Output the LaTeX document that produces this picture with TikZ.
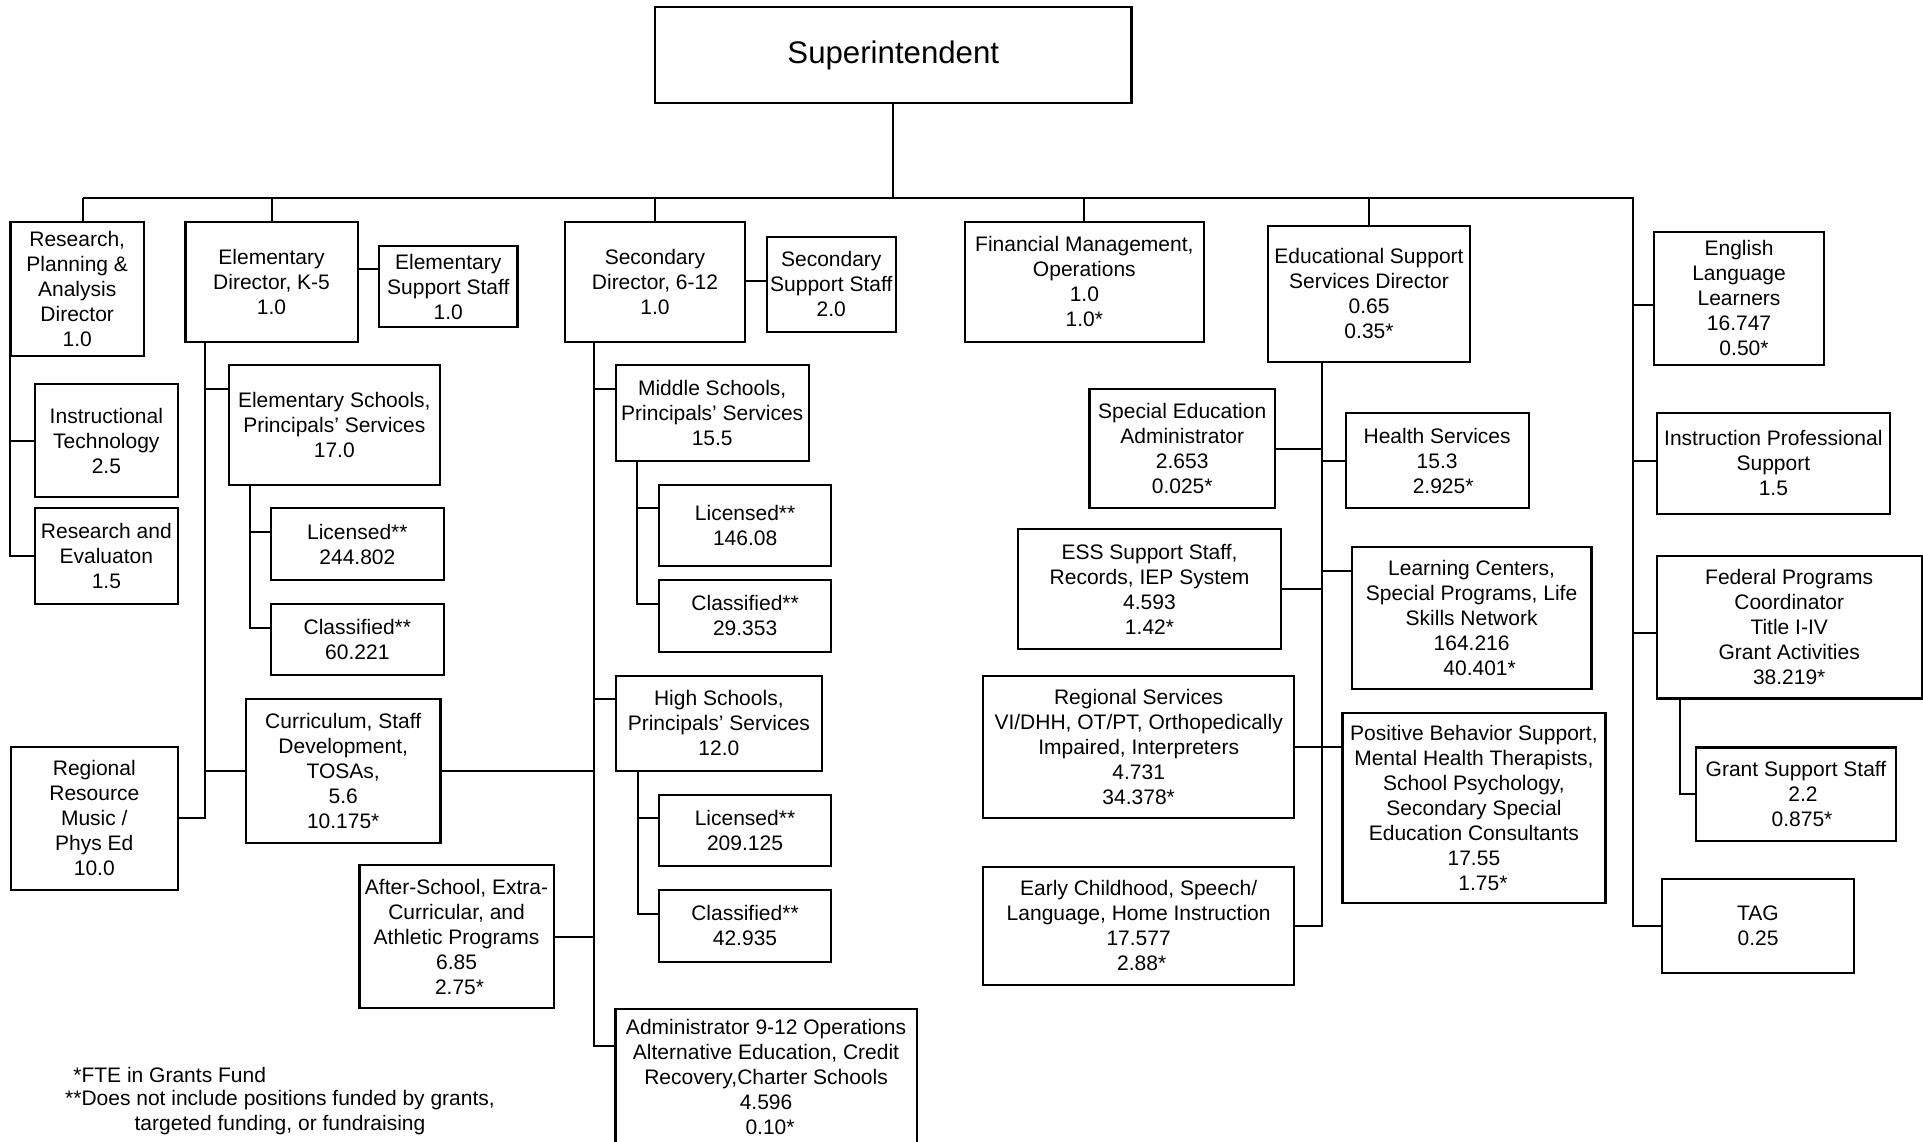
\documentclass[tikz,border=0pt]{standalone}
\usepackage{fontspec}
\setmainfont{Liberation Sans}
\newcommand\bx[6]{\node[box, minimum width={(#4-#2)*0.5pt}, minimum height={(#5-#3)*0.5pt}] (#1) at ({(#2+#4)/2},{(#3+#5)/2}) {#6};}
\newcommand\sh[1]{\hspace*{#1pt}}
\begin{document}
\begin{tikzpicture}[x=0.5pt,y=-0.5pt,
  every node/.style={font=\fontsize{10.5}{12.5}\selectfont},
  box/.style={draw, line width=1.1pt, inner sep=0pt, outer sep=0pt, align=center},
  conn/.style={line width=1pt}]
\useasboundingbox (0,0) rectangle (1923,1141);
\clip (0,0) rectangle (1923,1141);
% top
\node[box, minimum width={476.5*0.5pt}, minimum height={95.4*0.5pt}, font=\fontsize{15.6}{18}\selectfont] (sup) at (893.3,55) {Superintendent};
\coordinate (barL) at (83,198);
\coordinate (barR) at (1633,198);
% level 1
\bx{res}{10.4}{221.7}{144}{356}{Research,\\Planning \&\\Analysis\\Director\\1.0}
\bx{eld}{185.5}{222.3}{357.6}{341.7}{Elementary\\Director, K-5\\1.0}
\bx{els}{379}{246}{517.5}{327.3}{Elementary\\Support Staff\\1.0}
\bx{sed}{564.6}{222.3}{745.3}{341.7}{Secondary\\Director, 6-12\\1.0}
\bx{sss}{766.7}{236.7}{895.9}{332}{Secondary\\Support Staff\\2.0}
\bx{fin}{965}{221.7}{1203.7}{341.7}{Financial Management,\\Operations\\1.0\\1.0*}
\bx{esd}{1268}{225.7}{1470}{361.7}{Educational Support\\Services Director\\0.65\\0.35*}
% research column
\bx{it}{34.7}{384}{178}{497}{Instructional\\Technology\\2.5}
\bx{re}{34.7}{508}{178}{604}{Research and\\Evaluaton\\1.5}
\bx{rr}{11}{746.7}{177.6}{890}{Regional\\Resource\\Music /\\Phys Ed\\10.0}
% elementary column
\bx{es}{228.6}{365}{440}{484.7}{Elementary Schools,\\Principals’ Services\\17.0}
\bx{lic1}{271}{508}{443.7}{580}{Licensed**\\244.802}
\bx{cl1}{271}{603.7}{443.7}{675}{Classified**\\60.221}
\bx{cur}{246}{699}{440.4}{842.7}{Curriculum, Staff\\Development,\\TOSAs,\\5.6\\10.175*}
\bx{as}{359.5}{864.7}{553.6}{1008.3}{After-School, Extra-\\Curricular, and\\Athletic Programs\\6.85\\\sh{3}2.75*}
% secondary column
\bx{ms}{615.7}{365}{808.7}{460.7}{Middle Schools,\\Principals’ Services\\15.5}
\bx{lic2}{659}{484.7}{831.3}{565.7}{Licensed**\\146.08}
\bx{cl2}{659}{579.7}{831.3}{651.7}{Classified**\\29.353}
\bx{hs}{615.7}{675.7}{822}{770.7}{High Schools,\\Principals’ Services\\12.0}
\bx{lic3}{659}{794.7}{831}{866}{Licensed**\\209.125}
\bx{cl3}{659}{890}{831}{961.7}{Classified**\\42.935}
\bx{ad}{615.4}{1009}{916.7}{1145}{Administrator 9-12 Operations\\Alternative Education, Credit\\Recovery,Charter Schools\\4.596\\\sh{4}0.10*}
% educational support column
\bx{sea}{1089.4}{389}{1275}{508.3}{Special Education\\Administrator\\2.653\\0.025*}
\bx{hsv}{1345.7}{412.7}{1528.6}{508.3}{Health Services\\15.3\\\sh{6}2.925*}
\bx{esst}{1018}{529.3}{1281}{648.7}{ESS Support Staff,\\Records, IEP System\\4.593\\1.42*}
\bx{lc}{1351.8}{546.7}{1591.4}{689.3}{Learning Centers,\\Special Programs, Life\\Skills Network\\164.216\\\sh{8}40.401*}
\bx{rs}{983.3}{675.7}{1294}{818.3}{Regional Services\\VI/DHH, OT/PT, Orthopedically\\Impaired, Interpreters\\4.731\\34.378*}
\bx{pb}{1342.4}{713.3}{1605.4}{903.3}{Positive Behavior Support,\\Mental Health Therapists,\\School Psychology,\\Secondary Special\\Education Consultants\\17.55\\\sh{9}1.75*}
\bx{ec}{983.3}{866.7}{1294}{985}{Early Childhood, Speech/\\Language, Home Instruction\\17.577\\\sh{3}2.88*}
% right column
\bx{ell}{1654}{231.6}{1824}{364.8}{English\\Language\\Learners\\16.747\\\sh{5}0.50*}
\bx{ips}{1656.7}{413}{1890}{513.8}{Instruction Professional\\Support\\1.5}
\bx{fed}{1656.7}{556}{1921.7}{698.5}{Federal Programs\\Coordinator\\Title I-IV\\Grant Activities\\38.219*}
\bx{gss}{1696.3}{747.4}{1895.7}{841.3}{Grant Support Staff\\\sh{7}2.2\\\sh{6}0.875*}
\bx{tag}{1662}{878.6}{1854}{973}{TAG\\0.25}
% footnotes
\node[anchor=west, inner sep=0pt] (fn1) at (73,1075) {*FTE in Grants Fund};
\node[align=center, inner sep=0pt] (fn2) at (280,1113) {**Does not include positions funded by grants,\\targeted funding, or fundraising};
% connectors: top
\draw[conn] (sup.south) -- (sup.south |- barL);
\draw[conn] (barL) -- (barR) -- (barR |- tag.west) -- (tag.west);
\draw[conn] (barL) -- (barL |- res.north);
\draw[conn] (eld.north) -- (eld.north |- barL);
\draw[conn] (sed.north) -- (sed.north |- barL);
\draw[conn] (fin.north) -- (fin.north |- barL);
\draw[conn] (esd.north) -- (esd.north |- barL);
\draw[conn] (eld.east |- 0,269.3) -- (els.west |- 0,269.3);
\draw[conn] (sed.east |- 0,281) -- (sss.west |- 0,281);
% research spine
\draw[conn] (res.south west) -- (res.south west |- re.west) -- (re.west);
\draw[conn] (res.south west |- it.west) -- (it.west);
% elementary spine
\draw[conn] (eld.south -| 205,0) -- (rr.east -| 205,0) -- (rr.east);
\draw[conn] (205,389) -- (es.west |- 0,389);
\draw[conn] (cur.west -| 205,0) -- (cur.west);
\draw[conn] (es.south -| 250,0) -- (250,627.7) -- (cl1.west |- 0,627.7);
\draw[conn] (250,532) -- (lic1.west |- 0,532);
% secondary spine
\draw[conn] (sed.south -| 594,0) -- (594,1046) -- (ad.west |- 0,1046);
\draw[conn] (594,389.3) -- (ms.west |- 0,389.3);
\draw[conn] (594,699.3) -- (hs.west |- 0,699.3);
\draw[conn] (cur.east) -- (cur.east -| 594,0);
\draw[conn] (as.east) -- (as.east -| 594,0);
\draw[conn] (ms.south -| 637.3,0) -- (637.3,603.7) -- (cl2.west |- 0,603.7);
\draw[conn] (637.3,508.3) -- (lic2.west |- 0,508.3);
\draw[conn] (hs.south -| 638,0) -- (638,913.7) -- (cl3.west |- 0,913.7);
\draw[conn] (638,818.3) -- (lic3.west |- 0,818.3);
% educational support spine
\draw[conn] (esd.south -| 1322,0) -- (ec.east -| 1322,0) -- (ec.east);
\draw[conn] (sea.east) -- (sea.east -| 1322,0);
\draw[conn] (hsv.west -| 1322,0) -- (hsv.west);
\draw[conn] (esst.east) -- (esst.east -| 1322,0);
\draw[conn] (1322,571) -- (lc.west |- 0,571);
\draw[conn] (rs.east) -- (rs.east -| 1322,0);
\draw[conn] (1322,747.3) -- (pb.west |- 0,747.3);
% right spine
\draw[conn] (barR |- 0,304.6) -- (ell.west |- 0,304.6);
\draw[conn] (barR |- 0,461) -- (ips.west |- 0,461);
\draw[conn] (barR |- 0,632.7) -- (fed.west |- 0,632.7);
\draw[conn] (fed.south -| 1680,0) -- (gss.west -| 1680,0) -- (gss.west);
\end{tikzpicture}
\end{document}
